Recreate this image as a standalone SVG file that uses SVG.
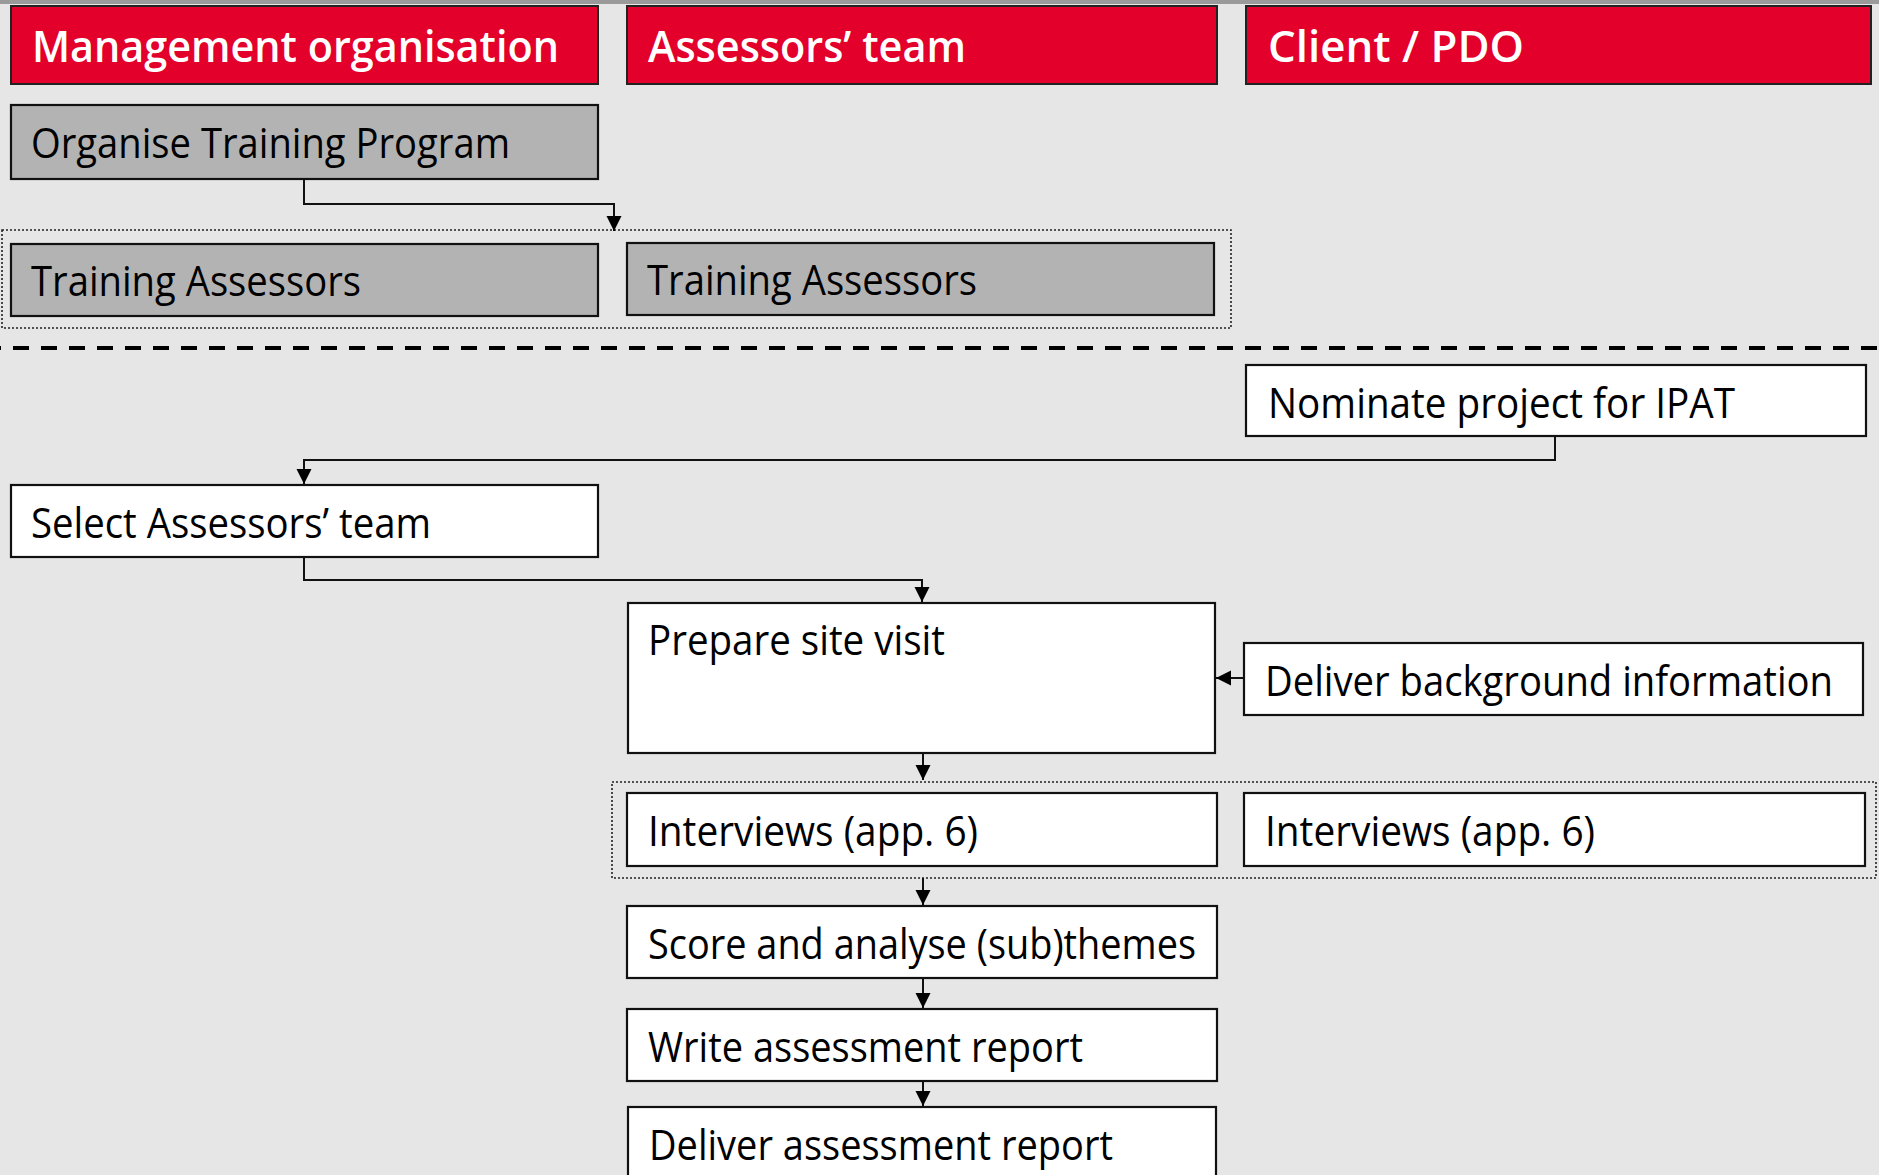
<svg xmlns="http://www.w3.org/2000/svg" width="1879" height="1175" viewBox="0 0 1879 1175">
<style>
.hdr{fill:#e3002b;stroke:#222;stroke-width:2}
.gray{fill:#b3b3b3;stroke:#111;stroke-width:2.2}
.box{fill:#fff;stroke:#111;stroke-width:2.2}
.ht{font-family:"Open Sans","Noto Sans",sans-serif;font-weight:600;font-size:43px;fill:#fff}
.t{font-family:"Open Sans","Noto Sans",sans-serif;font-size:42px;fill:#000}
.dot{fill:none;stroke:#222;stroke-width:1.6;stroke-dasharray:2 2}
.con{fill:none;stroke:#111;stroke-width:2}
</style>
<defs>
<marker id="ah" viewBox="0 0 10 10" refX="10" refY="5" markerWidth="15" markerHeight="16" markerUnits="userSpaceOnUse" orient="auto">
<path d="M0,0 L10,5 L0,10 z" fill="#000"/>
</marker>
</defs>
<rect x="0" y="0" width="1879" height="1175" fill="#e6e6e6"/>
<rect x="0" y="0" width="1879" height="4" fill="#9a9a9a"/>

<g id="lane-management">
<rect class="hdr" x="11" y="6" width="587" height="78"/>
<text class="ht" x="32" y="62" textLength="527" lengthAdjust="spacingAndGlyphs">Management organisation</text>
</g>
<g id="lane-assessors">
<rect class="hdr" x="627" y="6" width="590" height="78"/>
<text class="ht" x="648" y="62" textLength="318" lengthAdjust="spacingAndGlyphs">Assessors’ team</text>
</g>
<g id="lane-client">
<rect class="hdr" x="1246" y="6" width="625" height="78"/>
<text class="ht" x="1268" y="62" textLength="256" lengthAdjust="spacingAndGlyphs">Client / PDO</text>
</g>

<g id="group-training">
<rect class="dot" x="2" y="230" width="1229" height="98"/>
</g>
<g id="group-interviews">
<rect class="dot" x="612" y="782" width="1264" height="96"/>
</g>
<line x1="0" y1="348" x2="1879" y2="348" stroke="#000" stroke-width="4" stroke-dasharray="16 12" stroke-dashoffset="15"/>

<g id="organise">
<rect class="gray" x="11" y="105" width="587" height="74"/>
<text class="t" x="31" y="158" textLength="479" lengthAdjust="spacingAndGlyphs">Organise Training Program</text>
</g>
<g id="training-mgmt">
<rect class="gray" x="11" y="244" width="587" height="72"/>
<text class="t" x="31" y="296" textLength="330" lengthAdjust="spacingAndGlyphs">Training Assessors</text>
</g>
<g id="training-assessors">
<rect class="gray" x="627" y="243" width="587" height="72"/>
<text class="t" x="647" y="295" textLength="330" lengthAdjust="spacingAndGlyphs">Training Assessors</text>
</g>
<g id="nominate">
<rect class="box" x="1246" y="365" width="620" height="71"/>
<text class="t" x="1268" y="418" textLength="467" lengthAdjust="spacingAndGlyphs">Nominate project for IPAT</text>
</g>
<g id="select">
<rect class="box" x="11" y="485" width="587" height="72"/>
<text class="t" x="31" y="538" textLength="400" lengthAdjust="spacingAndGlyphs">Select Assessors’ team</text>
</g>
<g id="prepare">
<rect class="box" x="628" y="603" width="587" height="150"/>
<text class="t" x="648" y="655" textLength="297" lengthAdjust="spacingAndGlyphs">Prepare site visit</text>
</g>
<g id="background">
<rect class="box" x="1244" y="643" width="619" height="72"/>
<text class="t" x="1265" y="696" textLength="568" lengthAdjust="spacingAndGlyphs">Deliver background information</text>
</g>
<g id="interviews-assessors">
<rect class="box" x="627" y="793" width="590" height="73"/>
<text class="t" x="648" y="846" textLength="330" lengthAdjust="spacingAndGlyphs">Interviews (app. 6)</text>
</g>
<g id="interviews-client">
<rect class="box" x="1244" y="793" width="621" height="73"/>
<text class="t" x="1265" y="846" textLength="330" lengthAdjust="spacingAndGlyphs">Interviews (app. 6)</text>
</g>
<g id="score">
<rect class="box" x="627" y="906" width="590" height="72"/>
<text class="t" x="648" y="959" textLength="548" lengthAdjust="spacingAndGlyphs">Score and analyse (sub)themes</text>
</g>
<g id="write">
<rect class="box" x="627" y="1009" width="590" height="72"/>
<text class="t" x="648" y="1062" textLength="435" lengthAdjust="spacingAndGlyphs">Write assessment report</text>
</g>
<g id="deliver-report">
<rect class="box" x="628" y="1107" width="588" height="80"/>
<text class="t" x="649" y="1160" textLength="464" lengthAdjust="spacingAndGlyphs">Deliver assessment report</text>
</g>

<g id="connectors">
<path class="con" d="M304,179 V204 H614 V231" marker-end="url(#ah)"/>
<path class="con" d="M1555,436 V460 H304 V484" marker-end="url(#ah)"/>
<path class="con" d="M304,557 V580 H922 V602" marker-end="url(#ah)"/>
<path class="con" d="M1244,678 H1216" marker-end="url(#ah)"/>
<path class="con" d="M923,753 V780" marker-end="url(#ah)"/>
<path class="con" d="M923,878 V905" marker-end="url(#ah)"/>
<path class="con" d="M923,978 V1008" marker-end="url(#ah)"/>
<path class="con" d="M923,1081 V1106" marker-end="url(#ah)"/>
</g>
</svg>
